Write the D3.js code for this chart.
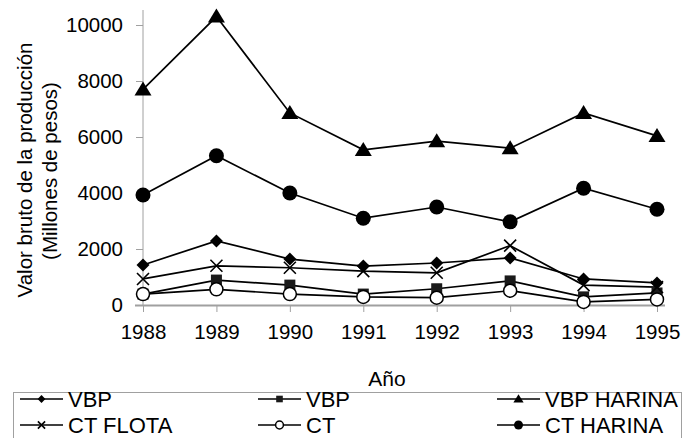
<!DOCTYPE html>
<html>
<head>
<meta charset="utf-8">
<script src="https://cdn.jsdelivr.net/npm/d3@7"></script>
<style>
  body { margin: 0; background: #fff; }
  svg { display: block; font-family: "Liberation Sans", Arial, sans-serif; }
</style>
</head>
<body>
<svg id="chart" width="686" height="438"></svg>
<script>
// data
const years = ["1988", "1989", "1990", "1991", "1992", "1993", "1994", "1995"];
const vbp = [1430, 2290, 1640, 1390, 1500, 1680, 930, 790];
const vbpFlota = [390, 890, 710, 390, 580, 860, 290, 430];
const vbpHarina = [7700, 10300, 6860, 5540, 5850, 5600, 6860, 6040];
const ctFlota = [930, 1400, 1330, 1210, 1150, 2120, 710, 640];
const ct = [390, 560, 390, 290, 260, 510, 110, 200];
const ctHarina = [3930, 5330, 4000, 3100, 3500, 2970, 4170, 3420];
const yTicks = [0, 2000, 4000, 6000, 8000, 10000];

// legend order: row by row, three columns
const series = [
    {name: "VBP", values: vbp, marker: "diamond"},
    {name: "VBP", values: vbpFlota, marker: "square"},
    {name: "VBP HARINA", values: vbpHarina, marker: "triangle"},
    {name: "CT FLOTA", values: ctFlota, marker: "cross"},
    {name: "CT", values: ct, marker: "open"},
    {name: "CT HARINA", values: ctHarina, marker: "circle"}
];

const svg = d3.select('#chart');
const axisColor = '#a0a0a0';

const x = d3.scalePoint().domain(years).range([143, 657]);
const y = d3.scaleLinear().domain([0, 10000]).range([305, 25]);

/**
 * draw one marker at the origin of group g
 */
function drawMarker(g, type, scale) {
    let s = scale || 1;
    if (type === 'diamond') {
        g.append('path').attr('d', `M0,${-6.5 * s}L${6.5 * s},0L0,${6.5 * s}L${-6.5 * s},0Z`).attr('fill', '#000');
    } else if (type === 'square') {
        g.append('rect').attr('x', -5.5 * s).attr('y', -5.5 * s)
            .attr('width', 11 * s).attr('height', 11 * s).attr('fill', '#1a1a1a');
    } else if (type === 'triangle') {
        g.append('path').attr('d', `M0,${-8 * s}L${8.5 * s},${6 * s}L${-8.5 * s},${6 * s}Z`).attr('fill', '#000');
    } else if (type === 'cross') {
        g.append('path').attr('d', `M${-6 * s},${-6 * s}L${6 * s},${6 * s}M${6 * s},${-6 * s}L${-6 * s},${6 * s}`)
            .attr('stroke', '#000').attr('stroke-width', 1.6);
    } else if (type === 'open') {
        g.append('circle').attr('r', 6.5 * s).attr('fill', '#fff').attr('stroke', '#000').attr('stroke-width', 1.5);
    } else if (type === 'circle') {
        g.append('circle').attr('r', 7.5 * s).attr('fill', '#000');
    }
}

// axes
const yAxis = svg.append('g').attr('transform', 'translate(143,0)')
    .call(d3.axisLeft(y).tickValues(yTicks).tickSize(7).tickPadding(13).tickFormat(d3.format('d')));
yAxis.select('.domain').remove();
yAxis.append('line').attr('x1', 0).attr('x2', 0).attr('y1', 10).attr('y2', 305)
    .attr('stroke', axisColor);

const xAxis = svg.append('g').attr('transform', 'translate(0,305)')
    .call(d3.axisBottom(x).tickSize(7).tickPadding(12).tickSizeOuter(0));
xAxis.select('.domain').attr('d', 'M135,0.5H665').attr('stroke', axisColor).attr('stroke-width', 2);

svg.selectAll('.tick line').attr('stroke', axisColor);
svg.selectAll('.tick text').attr('font-size', 20.5).attr('fill', '#000')
    .attr('font-family', '"Liberation Sans", Arial, sans-serif');

// axis titles
svg.append('text').attr('x', 387).attr('y', 386).attr('text-anchor', 'middle')
    .attr('font-size', 21).text('Año');
svg.append('text').attr('transform', 'translate(32,170) rotate(-90)').attr('text-anchor', 'middle')
    .attr('font-size', 20.5).text('Valor bruto de la producción');
svg.append('text').attr('transform', 'translate(57,171) rotate(-90)').attr('text-anchor', 'middle')
    .attr('font-size', 20.5).text('(Millones de pesos)');

// lines and markers
const line = d3.line().x((d, i) => x(years[i])).y((d) => y(d));

series.forEach((s) => {
    svg.append('path').datum(s.values).attr('d', line)
        .attr('fill', 'none').attr('stroke', '#000').attr('stroke-width', 1.7);
});
series.forEach((s) => {
    s.values.forEach((v, i) => {
        let g = svg.append('g').attr('transform', `translate(${x(years[i])},${y(v)})`);
        drawMarker(g, s.marker);
    });
});

// legend
svg.append('rect').attr('x', 13.5).attr('y', 392.5).attr('width', 668).attr('height', 60)
    .attr('fill', 'none').attr('stroke', axisColor);

const colX = [20, 258, 497];
series.forEach((s, i) => {
    let col = i % 3, row = Math.floor(i / 3);
    let lg = svg.append('g').attr('transform', `translate(${colX[col]},${399 + row * 26})`);
    lg.append('line').attr('x1', 0).attr('x2', 43).attr('stroke', '#000').attr('stroke-width', 1.7);
    drawMarker(lg.append('g').attr('transform', 'translate(21.5,0)'), s.marker, 0.6);
    lg.append('text').attr('x', 48).attr('y', 8).attr('font-size', 22)
        .text(s.name);
});
</script>
</body>
</html>
